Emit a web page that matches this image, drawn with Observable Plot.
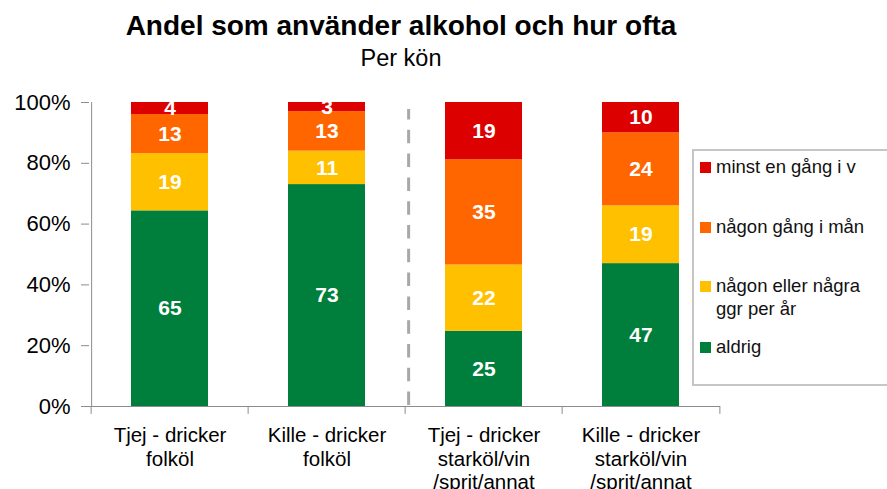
<!DOCTYPE html>
<html><head><meta charset="utf-8">
<script src="https://cdn.jsdelivr.net/npm/d3@7"></script>
<script src="https://cdn.jsdelivr.net/npm/@observablehq/plot@0.6"></script>
<style>
html,body{margin:0;padding:0;background:#fff;overflow:hidden;width:887px;height:489px;font-family:"Liberation Sans",Arial,sans-serif;}
#wrap{position:relative;width:887px;height:489px;overflow:hidden;}
#title{position:absolute;left:0;width:802px;top:12px;text-align:center;font-weight:bold;font-size:28px;line-height:28px;color:#000;white-space:nowrap;}
#subtitle{position:absolute;left:0;width:802px;top:47px;text-align:center;font-size:23.5px;line-height:23.5px;color:#000;}
#chart{position:absolute;left:0;top:80px;}
#legend{position:absolute;left:692px;top:149px;width:220px;height:237px;border:2px solid #c6c6c6;box-sizing:border-box;background:#fff;}
.li{position:absolute;left:22px;font-size:18.5px;line-height:23px;color:#111;white-space:pre;}
.sw{position:absolute;left:6px;width:11px;height:11px;}
</style></head>
<body><div id="wrap">
<div id="title">Andel som använder alkohol och hur ofta</div>
<div id="subtitle">Per kön</div>
<div id="chart"></div>
<div id="legend"></div>
</div>
<script>
const categories = ["Tjej - dricker\nfolköl", "Kille - dricker\nfolköl", "Tjej - dricker\nstarköl/vin\n/sprit/annat", "Kille - dricker\nstarköl/vin\n/sprit/annat"];
const series = ["aldrig", "någon eller några ggr per år", "någon gång i mån", "minst en gång i v"];
const legendLabels = ["aldrig", "någon eller några\nggr per år", "någon gång i mån", "minst en gång i v"];
const colors = ["#007f3c", "#ffc000", "#ff6600", "#dd0000"];
const aldrig = [65, 73, 25, 47];
const nagraGgr = [19, 11, 22, 19];
const manad = [13, 13, 35, 24];
const vecka = [4, 3, 19, 10];
const yTicks = [0, 0.2, 0.4, 0.6, 0.8, 1];

const valuesBySeries = [aldrig, nagraGgr, manad, vecka];
const data = [];
series.forEach((s, i) => categories.forEach((c, j) => data.push({cat: c, serie: s, value: valuesBySeries[i][j]})));

const step = 631 / 4;
const stackOpts = {x: "cat", y: "value", z: "serie", order: series, offset: "normalize"};

const chart = Plot.plot({
  width: 887, height: 409,
  marginLeft: 89, marginRight: 167, marginTop: 22, marginBottom: 83,
  style: {fontFamily: "'Liberation Sans', Arial, sans-serif", fontSize: "20px", color: "#000", background: "#fff", overflow: "visible"},
  x: {domain: categories, paddingInner: 0.51, paddingOuter: 0.255, axis: null},
  y: {domain: [0, 1], axis: null},
  color: {domain: series, range: colors},
  marks: [
    Plot.barY(data, Plot.stackY({...stackOpts, fill: "serie"})),
    Plot.text(data, Plot.stackY({...stackOpts, text: "value", fill: "white", fontWeight: "bold", fontSize: 21})),
    Plot.ruleY([0], {stroke: "#8c8c8c", strokeWidth: 1}),
    Plot.ruleX([categories[0]], {x: d => d, dx: -step / 2 + 0.5, y1: 0, y2: 1, stroke: "#8c8c8c", strokeWidth: 1}),
    Plot.ruleX(categories, {x: d => d, dx: -step / 2, y1: 0, y2: -0.026, stroke: "#8c8c8c"}),
    Plot.ruleX([categories[3]], {x: d => d, dx: step / 2, y1: 0, y2: -0.026, stroke: "#8c8c8c"}),
    Plot.ruleX([categories[2]], {x: d => d, dx: -step / 2 + 3.5, y1: 0.003, y2: 0.977, stroke: "#a8a8a8", strokeWidth: 3, strokeDasharray: "13.5,10.3"}),
    Plot.axisY({ticks: yTicks, tickSize: 8, tickPadding: 11, tickFormat: d => Math.round(d * 100) + "%", stroke: "#8c8c8c", fontSize: 22, label: null}),
    Plot.axisX({tickSize: 0, tickPadding: 18, fontSize: 20.5, lineHeight: 1.17, tickFormat: d => d, label: null})
  ]
});
document.getElementById("chart").appendChild(chart);

// Legend (top to bottom: reverse stack order)
const legend = document.getElementById("legend");
const tops = [184, 123, 64, 4];
series.forEach((s, i) => {
  const li = document.createElement("div");
  li.className = "li";
  li.style.top = tops[i] + "px";
  li.textContent = legendLabels[i];
  legend.appendChild(li);
  const sw = document.createElement("div");
  sw.className = "sw";
  sw.style.top = (tops[i] + 7) + "px";
  sw.style.background = colors[i];
  legend.appendChild(sw);
});
</script>
</body></html>
